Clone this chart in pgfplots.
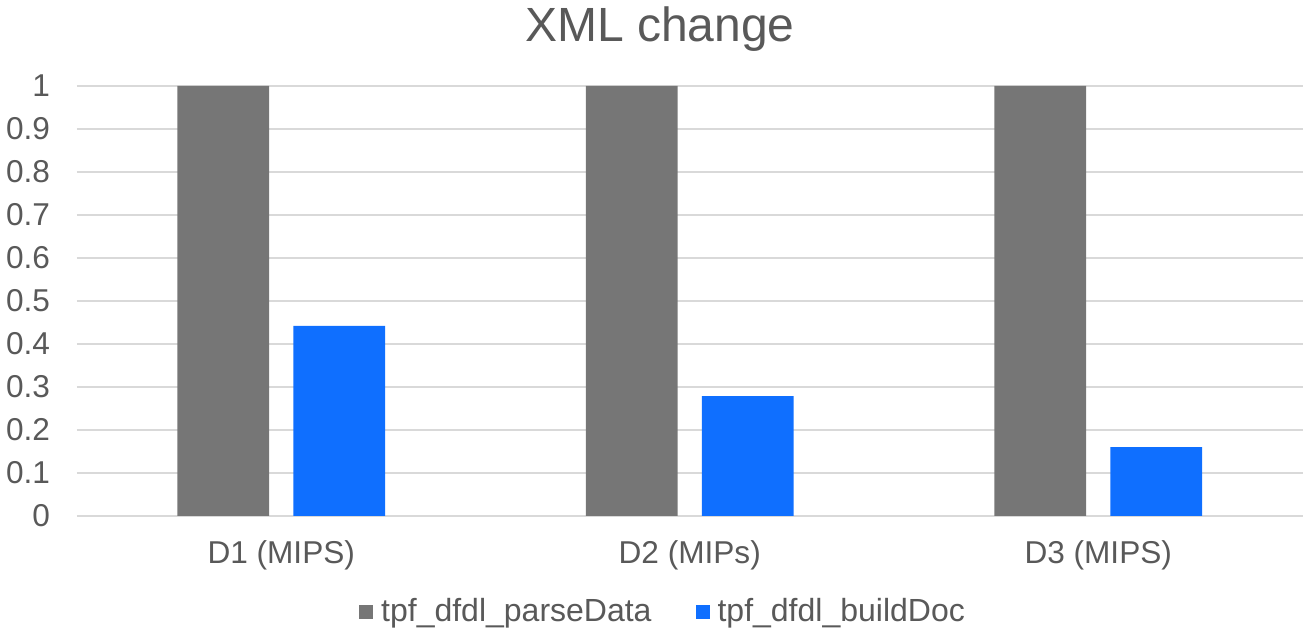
\documentclass[border=0pt]{standalone}
\usepackage{pgfplots}
\pgfplotsset{compat=1.18}
\usepackage{fontspec}
\setmainfont{Liberation Sans}
\definecolor{txt}{HTML}{595959}
\definecolor{grd}{HTML}{D9D9D9}
\definecolor{cgray}{HTML}{767676}
\definecolor{cblue}{HTML}{0F6FFF}
\begin{document}
\begin{tikzpicture}[x=0.5pt,y=0.5pt]
\path[use as bounding box] (-77,-114) rectangle (1226,516);
\begin{axis}[
  at={(0,0)}, anchor=south west,
  scale only axis, width=612.75pt, height=215pt,
  xmin=-0.5, xmax=2.5, ymin=0, ymax=1,
  axis line style={draw=none},
  ymajorgrids, grid style={grd, line width=1pt},
  ytick={0,0.1,...,1.01},
  yticklabels={0,0.1,0.2,0.3,0.4,0.5,0.6,0.7,0.8,0.9,1},
  xtick={0,1,2},
  xticklabels={D1 (MIPS),D2 (MIPs),D3 (MIPS)},
  major tick length=0pt,
  tick label style={font=\fontsize{15.8}{15.8}\selectfont, text=txt},
  yticklabel style={xshift=-10pt},
  xticklabel style={yshift=-9pt},
  ybar, bar width=0.225,
  legend style={at={(0.479,-0.223)}, anchor=center, draw=none,
    font=\fontsize{16}{16}\selectfont, text=txt, legend columns=2,
    /tikz/every even column/.append style={column sep=20pt}},
  legend image code/.code={\fill[#1] (0pt,-3.5pt) rectangle (7pt,3.5pt); \path (9pt,0pt);},
]
\addplot[fill=cgray, draw=none, bar shift=-0.142] coordinates {(0,1) (1,1) (2,1)};
\addplot[fill=cblue, draw=none, bar shift=0.142] coordinates {(0,0.442) (1,0.279) (2,0.160)};
\legend{tpf\_dfdl\_parseData, tpf\_dfdl\_buildDoc}
\end{axis}
\node[text=txt, font=\fontsize{24}{24}\selectfont] at (583,487) {XML change};
\end{tikzpicture}
\end{document}
